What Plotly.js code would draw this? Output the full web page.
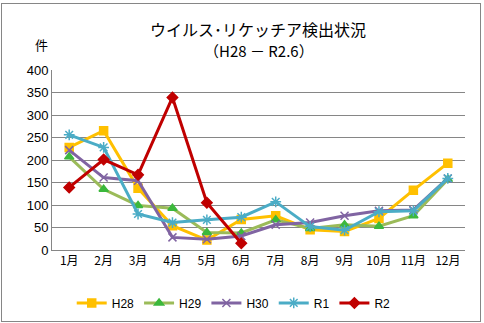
<!DOCTYPE html>
<html>
<head>
<meta charset="utf-8">
<script src="https://cdn.plot.ly/plotly-3.0.1.min.js"></script>
<style>
html,body{margin:0;padding:0;background:#fff;}
#wrap{position:relative;width:484px;height:323px;}
#chart{width:484px;height:323px;}
#frame{position:absolute;left:1px;top:3px;width:478px;height:317px;border:1px solid #868686;pointer-events:none;}
</style>
</head>
<body>
<div id="wrap"><div id="chart"></div><div id="frame"></div></div>
<script>
const months = ["1月","2月","3月","4月","5月","6月","7月","8月","9月","10月","11月","12月"];
const seriesNames = ["H28","H29","H30","R1","R2"];
const H28 = [228, 265, 137, 54, 22, 68, 76, 45, 41, 70, 133, 193];
const H29 = [207, 135, 99, 93, 39, 38, 67, 48, 56, 53, 76, 157];
const H30 = [222, 161, 154, 28, 24, 31, 56, 61, 76, 87, 89, 159];
const R1  = [256, 228, 80, 61, 67, 73, 107, 52, 44, 85, 87, 159];
const R2  = [139, 201, 167, 339, 105, 15];
const yTicks = [0, 50, 100, 150, 200, 250, 300, 350, 400];

const styles = [
  {line:'#FFC000', marker:'#FFC000', symbol:'square', size:8},
  {line:'#9BBB59', marker:'#3CB83C', symbol:'triangle-up', size:8},
  {line:'#8064A2', marker:'#8064A2', symbol:'x-thin', size:8},
  {line:'#4BACC6', marker:'#4BACC6', symbol:'asterisk', size:9},
  {line:'#C00000', marker:'#C00000', symbol:'diamond', size:8}
];
const values = [H28, H29, H30, R1, R2];

const traces = values.map((v, i) => ({
  type: 'scatter',
  mode: 'lines+markers',
  name: seriesNames[i],
  x: months.slice(0, v.length),
  y: v,
  line: {color: styles[i].line, width: 3},
  marker: {
    symbol: styles[i].symbol,
    size: styles[i].size,
    color: styles[i].marker,
    line: {color: styles[i].marker, width: 1.5}
  }
}));

const layout = {
  width: 484,
  height: 323,
  margin: {l: 52, r: 19, t: 70, b: 73, autoexpand: false},
  paper_bgcolor: '#fff',
  plot_bgcolor: '#fff',
  font: {family: '"Noto Sans CJK JP", "Liberation Sans", sans-serif', size: 12, color: '#000'},
  title: {
    text: 'ウイルス･リケッチア検出状況',
    x: 0.533, xanchor: 'center',
    y: 0.907, yanchor: 'middle',
    font: {family: '"Noto Sans CJK JP", sans-serif', size: 16, color: '#000'}
  },
  xaxis: {
    type: 'category',
    categoryorder: 'array',
    categoryarray: months,
    tickvals: months,
    ticktext: months,
    showgrid: false,
    showline: true,
    linecolor: '#868686',
    linewidth: 1,
    ticks: '',
    tickfont: {size: 12, family: '"Noto Sans CJK JP", sans-serif'},
    fixedrange: true,
    range: [-0.5, 11.5]
  },
  yaxis: {
    range: [0, 400],
    tickvals: yTicks,
    showgrid: true,
    gridcolor: '#868686',
    gridwidth: 1,
    showline: true,
    linecolor: '#868686',
    zeroline: false,
    ticks: '',
    ticklen: 0,
    tickfont: {size: 13, family: '"Liberation Sans", sans-serif'},
    fixedrange: true
  },
  legend: {
    orientation: 'h',
    x: 0.44, xanchor: 'center',
    y: -0.294, yanchor: 'middle',
    font: {size: 12, family: '"Liberation Sans", sans-serif'},
    itemwidth: 30,
    tracegroupgap: 0
  },
  annotations: [{
    text: '件', xref: 'paper', yref: 'paper',
    x: -0.025, y: 1.14, xanchor: 'center', yanchor: 'middle',
    showarrow: false,
    font: {size: 13, family: '"Noto Sans CJK JP", sans-serif'}
  }, {
    text: '（H28 － R2.6）', xref: 'paper', yref: 'paper',
    x: 0.5, y: 1.111, xanchor: 'center', yanchor: 'middle',
    showarrow: false,
    font: {size: 15, family: '"Noto Sans CJK JP", sans-serif'}
  }]
};

Plotly.newPlot('chart', traces, layout, {displayModeBar: false, staticPlot: true});
</script>
</body>
</html>
